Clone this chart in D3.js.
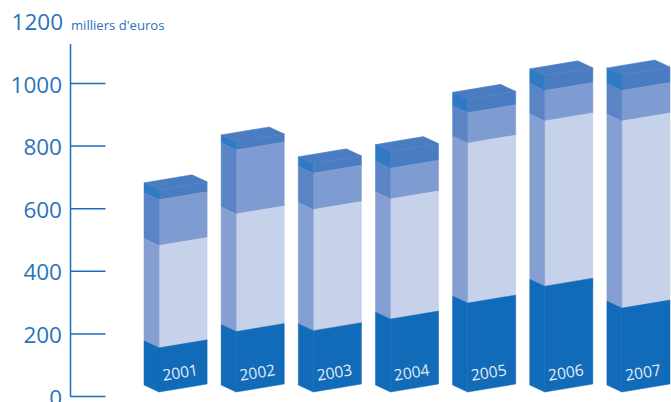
<!DOCTYPE html>
<html><head><meta charset="utf-8">
<script src="https://cdn.jsdelivr.net/npm/d3@7"></script>
<style>html,body{margin:0;padding:0;background:#fff;overflow:hidden}svg{display:block}text{font-family:"Open Sans",sans-serif}</style>
</head><body><svg id="c" width="671" height="402"></svg>
<script>
const years=["2001","2002","2003","2004","2005","2006","2007"];
const seriesA=[141,193,196,233,284,338,268];
const seriesB=[327,376,387,384,511,528,598];
const seriesC=[146,204,116,98,97,97,97];
const seriesD=[32,26,30,53,43,47,50];
const tickValues=[0,200,400,600,800,1000];
const topLabel="1200";
const unitLabel="milliers d'euros";

const frontColors=["#116bb8","#c6d1ea","#7e9bd2","#4a7cc2"];
const sideColors=["#116bb8","#859fd3","#5a84c6","#3079c4"];
const topColor="#4a7cc2", inkColor="#2a72bd", axisColor="#1a6cbd", yearColor="#e4ebf6";

const svg=d3.select("#c");
const y=d3.scaleLinear().domain([0,1000]).range([396,83]);
const x=d3.scaleBand().domain(years).range([144,670]).paddingInner(14/77).paddingOuter(0);
const sideW=15, baseShift=-4, sideRise=7, frontRise=8, peakRise=8;
const fy=v=>y(v)+baseShift;

// axis
const axis=d3.axisRight(y).tickValues(tickValues).tickSize(35).tickSizeOuter(0).tickFormat("");
const gAxis=svg.append("g").attr("transform","translate(70.5,0)").call(axis);
gAxis.select(".domain").remove();
gAxis.selectAll("line").attr("stroke",axisColor).attr("stroke-width",1.5);
gAxis.append("line").attr("y1",y(1125)).attr("y2",y(0)+0.75).attr("stroke",axisColor).attr("stroke-width",1.5);

svg.selectAll("text.tick").data(tickValues).join("text").attr("class","tick")
  .attr("x",62).attr("y",d=>y(d)+9.5).attr("text-anchor","end")
  .attr("font-size",22.5).attr("fill",inkColor).text(d=>d);
svg.append("text").attr("x",63).attr("y",y(1200)+9.5).attr("text-anchor","end")
  .attr("font-size",22.5).attr("fill",inkColor).text(topLabel);
svg.append("text").attr("x",71).attr("y",30).attr("font-size",13.1).attr("fill",inkColor).text(unitLabel);

// bars
const rows=years.map((yr,i)=>{
  let c=0;
  const segs=[seriesA[i],seriesB[i],seriesC[i],seriesD[i]].map((v,k)=>{
    const s={k,lo:c,hi:c+v}; c+=v; return s;
  });
  return {yr,segs,total:c};
});
const line=d3.line();
const bars=svg.selectAll("g.bar").data(rows).join("g").attr("class","bar");
bars.each(function(r){
  const g=d3.select(this), x0=x(r.yr), xf=x0+sideW, x1=x0+x.bandwidth();
  const t=fy(r.total);
  // seams are hidden by underlapping each shape: draw top to bottom with a hairline stroke of its own colour
  g.append("path").attr("fill",topColor).attr("stroke",topColor).attr("stroke-width",0.5)
    .attr("d",line([[x0,t-sideRise],[x0+48,t-sideRise-peakRise],[x1,t-frontRise],[xf,t]])+"Z");
  const order=r.segs.slice().reverse();
  g.selectAll("path.front").data(order).join("path").attr("class","front")
    .attr("fill",d=>frontColors[d.k]).attr("stroke",d=>frontColors[d.k]).attr("stroke-width",0.5)
    .attr("d",d=>line([[xf,fy(d.hi)],[x1,fy(d.hi)-frontRise],[x1,fy(d.lo)-frontRise],[xf,fy(d.lo)]])+"Z");
  g.selectAll("path.side").data(order).join("path").attr("class","side")
    .attr("fill",d=>sideColors[d.k]).attr("stroke",d=>sideColors[d.k]).attr("stroke-width",0.5)
    .attr("d",d=>line([[x0,fy(d.hi)-sideRise],[xf,fy(d.hi)],[xf,fy(d.lo)],[x0,fy(d.lo)-sideRise]])+"Z");
  g.append("text").attr("transform",`translate(${xf+22},${fy(0)-14}) rotate(-9)`)
    .attr("text-anchor","middle").attr("font-size",15.6).attr("fill",yearColor).text(r.yr);
});
</script>
</body></html>
